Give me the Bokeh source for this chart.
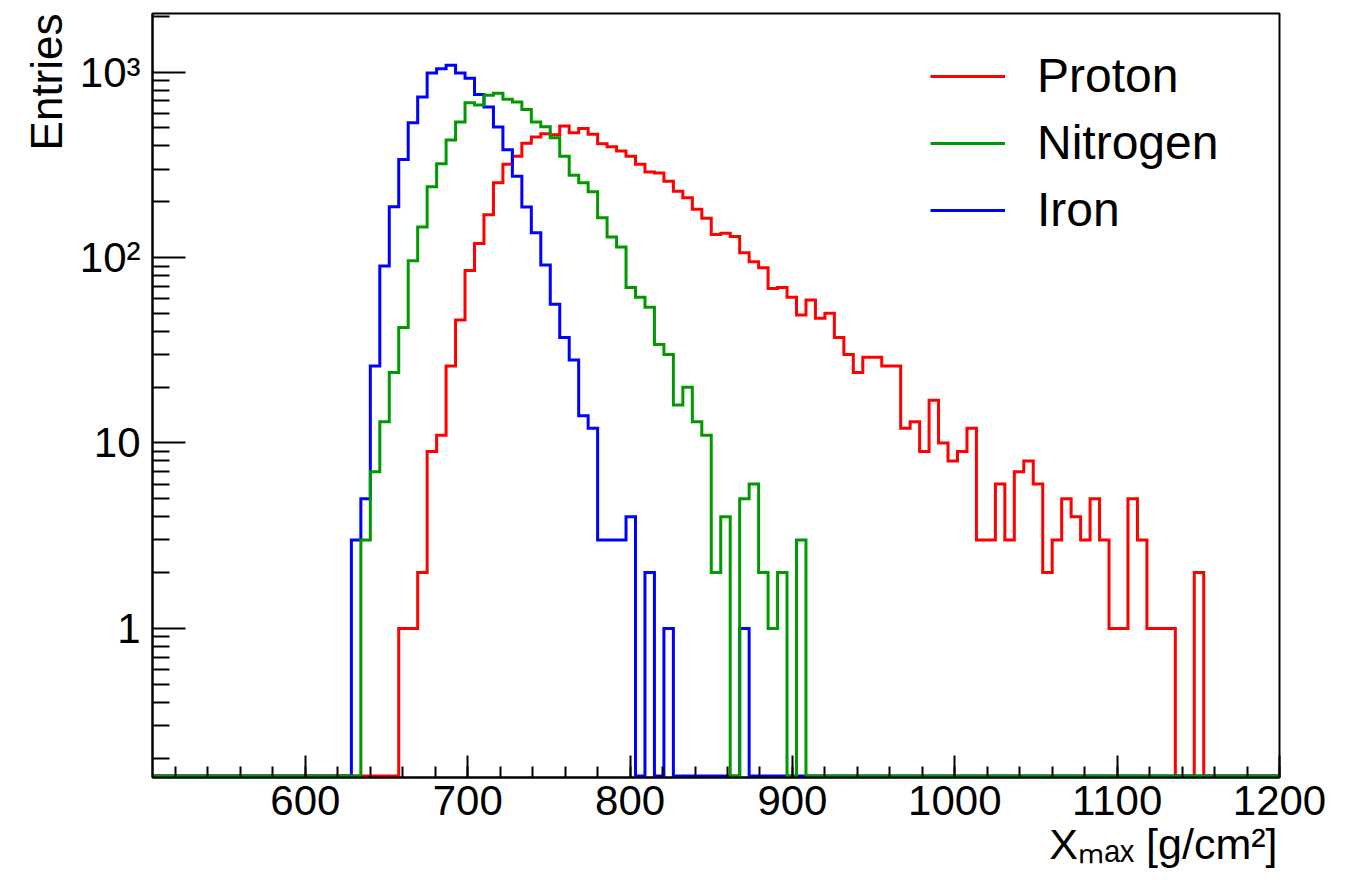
import numpy as np
from bokeh.plotting import figure
from bokeh.models import Range1d, FixedTicker, Legend, LegendItem, Title
from bokeh.embed import file_html
from bokeh.resources import INLINE

# ---------------- data ----------------
XLOW, XHIGH, NBINS = 500.0, 1200.0, 120   # histogram binning (bin width 5.833)

proton_first_bin = 27
proton_counts = [1, 1, 2, 9, 11, 26, 46, 85, 119, 170,
                 253, 318, 352, 413, 446, 465, 460, 512, 471, 497,
                 462, 411, 396, 375, 352, 318, 289, 286, 258, 228,
                 210, 182, 163, 133, 135, 130, 106, 95, 88, 68,
                 69, 61, 49, 59, 47, 50, 37, 30, 24, 29,
                 29, 26, 26, 12, 13, 9, 17, 10, 8, 9,
                 12, 3, 3, 6, 3, 7, 8, 6, 2, 3,
                 5, 4, 3, 5, 3, 1, 1, 5, 3, 1,
                 1, 1, 0, 0, 2]

nitrogen_first_bin = 23
nitrogen_counts = [3, 7, 13, 24, 42, 96, 146, 241, 320, 430,
                   538, 684, 664, 751, 768, 713, 689, 629, 538, 507,
                   443, 352, 278, 253, 226, 164, 129, 114, 69, 61,
                   54, 34, 30, 16, 20, 13, 11, 2, 4, 0,
                   5, 6, 2, 1, 2, 0, 3]

iron_first_bin = 22
iron_counts = [3, 5, 26, 90, 188, 338, 533, 733, 988, 1042,
               1087, 988, 925, 758, 648, 505, 381, 274, 187, 136,
               91, 56, 37, 28, 14, 12, 3, 3, 3, 4,
               0, 2, 0, 1, 0, 0, 0, 0, 0, 0,
               0, 1]

series_names = ["Proton", "Nitrogen", "Iron"]
series_colors = ["#ff0000", "#009900", "#0000ff"]

x_major_ticks = [600, 700, 800, 900, 1000, 1100, 1200]
y_major_ticks = [1, 10, 100, 1000]
y_tick_labels = {1: "1", 10: "10", 100: "10\u00b2", 1000: "10\u00b3"}

X_TITLE = "X\u2098\u2090\u2093 [g/cm\u00b2]"
Y_TITLE = "Entries"

# ---------------- derived ----------------
bw = (XHIGH - XLOW) / NBINS
X_START = XLOW + bw          # axis range snapped to a bin edge (ROOT style)
Y_LOW, Y_HIGH = 0.157, 2070.0
Y_FLOOR = Y_LOW * 1.02        # where empty bins are drawn (bottom of frame)

edges = XLOW + bw * np.arange(NBINS + 1)


def full_hist(first, counts):
    arr = np.zeros(NBINS)
    arr[first:first + len(counts)] = counts
    return arr


def outline(vals):
    xs = np.repeat(edges, 2)[1:-1]
    ys = np.repeat(np.where(vals > 0, vals, Y_FLOOR), 2)
    return xs, ys


FONT = "Liberation Sans"

p = figure(width=1358, height=880,
           x_range=Range1d(X_START, XHIGH), y_range=Range1d(Y_LOW, Y_HIGH),
           y_axis_type="log", output_backend="svg", toolbar_location=None,
           min_border_left=152, min_border_right=79,
           min_border_top=13, min_border_bottom=103,
           background_fill_color="white", border_fill_color="white")

p.xgrid.visible = False
p.ygrid.visible = False
p.outline_line_color = "black"
p.outline_line_width = 2

# axes
p.xaxis.ticker = FixedTicker(ticks=x_major_ticks,
                             minor_ticks=list(range(520, 1201, 20)))
p.yaxis.ticker = FixedTicker(ticks=y_major_ticks,
                             minor_ticks=[m * 10.0 ** e for e in range(-1, 4) for m in range(2, 10)])
p.yaxis.major_label_overrides = y_tick_labels

for ax in (p.xaxis, p.yaxis):
    ax.axis_line_width = 2
    ax.axis_line_color = "black"
    ax.major_tick_out = 0
    ax.minor_tick_out = 0
    ax.major_tick_line_width = 2
    ax.minor_tick_line_width = 2
    ax.major_label_text_font = FONT
    ax.major_label_text_font_size = "42px"
    ax.major_label_text_color = "black"

p.xaxis.major_tick_in = 22
p.xaxis.minor_tick_in = 11
p.yaxis.major_tick_in = 33
p.yaxis.minor_tick_in = 17
p.xaxis.major_label_standoff = 8
p.yaxis.major_label_standoff = 12

# histograms (drawn proton, iron, nitrogen as in the original)
hists = [full_hist(proton_first_bin, proton_counts),
         full_hist(iron_first_bin, iron_counts),
         full_hist(nitrogen_first_bin, nitrogen_counts)]
colors = [series_colors[0], series_colors[2], series_colors[1]]
renderers = []
for vals, col in zip(hists, colors):
    xs, ys = outline(vals)
    r = p.line(xs, ys, line_color=col, line_width=3, line_join="miter")
    renderers.append(r)

legend = Legend(items=[LegendItem(label=series_names[0], renderers=[renderers[0]]),
                       LegendItem(label=series_names[1], renderers=[renderers[2]]),
                       LegendItem(label=series_names[2], renderers=[renderers[1]])],
                location=(778, 540),
                glyph_width=75, glyph_height=44, label_height=44,
                label_standoff=32, spacing=12, padding=0, margin=0,
                border_line_color=None, background_fill_alpha=0,
                label_text_font=FONT, label_text_font_size="48px",
                label_text_color="black")
p.add_layout(legend, "center")

# axis titles (ROOT style: right/top aligned)
p.add_layout(Title(text=Y_TITLE, align="right", text_font=FONT,
                   text_font_size="44px", text_font_style="normal",
                   text_color="black", standoff=12, offset=0), "left")
p.add_layout(Title(text=X_TITLE, align="right", text_font=FONT,
                   text_font_size="43px", text_font_style="normal",
                   text_color="black", standoff=0, offset=2), "below")

open("out.html", "w").write(file_html(p, INLINE))
